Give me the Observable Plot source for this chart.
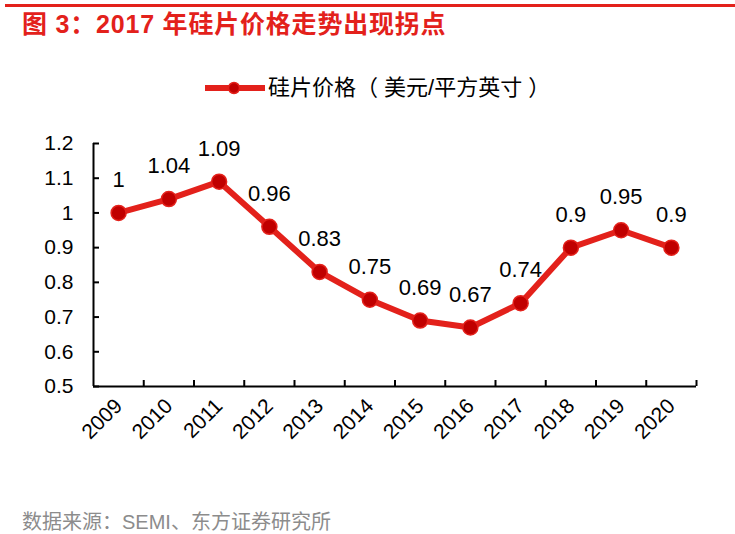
<!DOCTYPE html>
<html><head><meta charset="utf-8">
<script src="https://cdn.jsdelivr.net/npm/d3@7"></script>
<script src="https://cdn.jsdelivr.net/npm/@observablehq/plot@0.6"></script>
<style>
body{margin:0;width:735px;height:534px;position:relative;background:#fff;overflow:hidden;font-family:"Liberation Sans",Arial,"Noto Sans CJK SC",sans-serif;}
#topline{position:absolute;left:5px;right:0;top:4px;height:3px;background:#E3211B;}
#title{position:absolute;left:22px;top:12px;line-height:25px;font-size:25px;font-weight:bold;letter-spacing:0.8px;color:#E3211B;white-space:nowrap;}
#legend{position:absolute;left:204px;top:76px;height:24px;display:flex;align-items:center;font-size:22px;line-height:24px;color:#000;white-space:nowrap;}
#chart{position:absolute;left:0;top:120px;}
#caption{position:absolute;left:22px;top:512px;font-size:20px;line-height:20px;color:#8c8c8c;white-space:nowrap;}
</style></head>
<body>
<div id="topline"></div>
<div id="title">图 3：2017 年硅片价格走势出现拐点</div>
<div id="legend"><svg width="62" height="14" style="margin-right:2px"><line x1="1" y1="7" x2="61" y2="7" stroke="#E3211B" stroke-width="6"/><circle cx="30" cy="7" r="5.5" fill="#C00000" stroke="#E3211B" stroke-width="1.5"/></svg><span id="legendText"></span></div>
<div id="chart"></div>
<div id="caption">数据来源：SEMI、东方证券研究所</div>
<script>
const years = [2009,2010,2011,2012,2013,2014,2015,2016,2017,2018,2019,2020];
const prices = [1,1.04,1.09,0.96,0.83,0.75,0.69,0.67,0.74,0.9,0.95,0.9];
const yTicks = [0.5,0.6,0.7,0.8,0.9,1,1.1,1.2];
const seriesName = "硅片价格（ 美元/平方英寸 ）";

document.getElementById("legendText").textContent = seriesName;

const data = years.map((y,i)=>({year:y, price:prices[i]}));
const xDomain = [years[0]-0.5, years[years.length-1]+0.5];
const boundaries = years.map(y=>y+0.5);
const red = "#E3211B";

const chart = Plot.plot({
  width: 735,
  height: 370,
  marginTop: 23,
  marginBottom: 104,
  marginLeft: 93,
  marginRight: 39,
  style: {fontFamily: "Liberation Sans, Arial, sans-serif", color: "#000", background: "#fff"},
  x: {type: "linear", domain: xDomain},
  y: {domain: [0.5, 1.2]},
  marks: [
    Plot.axisY({ticks: yTicks, tickSize: -6, tickPadding: 26, fontSize: 21, tickFormat: d=>String(d), label: null, strokeWidth: 2}),
    Plot.axisX({ticks: years, tickSize: 0, tickRotate: -45, tickPadding: 16, fontSize: 21, tickFormat: d=>String(d), label: null}),
    Plot.axisX({ticks: boundaries, tickSize: -6, tickFormat: ()=>"", label: null, strokeWidth: 2}),
    Plot.ruleX([xDomain[0]], {stroke: "#000", strokeWidth: 2}),
    Plot.ruleY([0.5], {stroke: "#000", strokeWidth: 2}),
    Plot.line(data, {x: "year", y: "price", stroke: red, strokeWidth: 6, strokeLinejoin: "round"}),
    Plot.dot(data, {x: "year", y: "price", r: 7.5, fill: "#C00000", stroke: red, strokeWidth: 1.5}),
    Plot.text(data, {x: "year", y: "price", text: d=>String(d.price), dy: -33, fontSize: 22, fill: "#000"})
  ]
});
document.getElementById("chart").appendChild(chart);
</script>
</body></html>
